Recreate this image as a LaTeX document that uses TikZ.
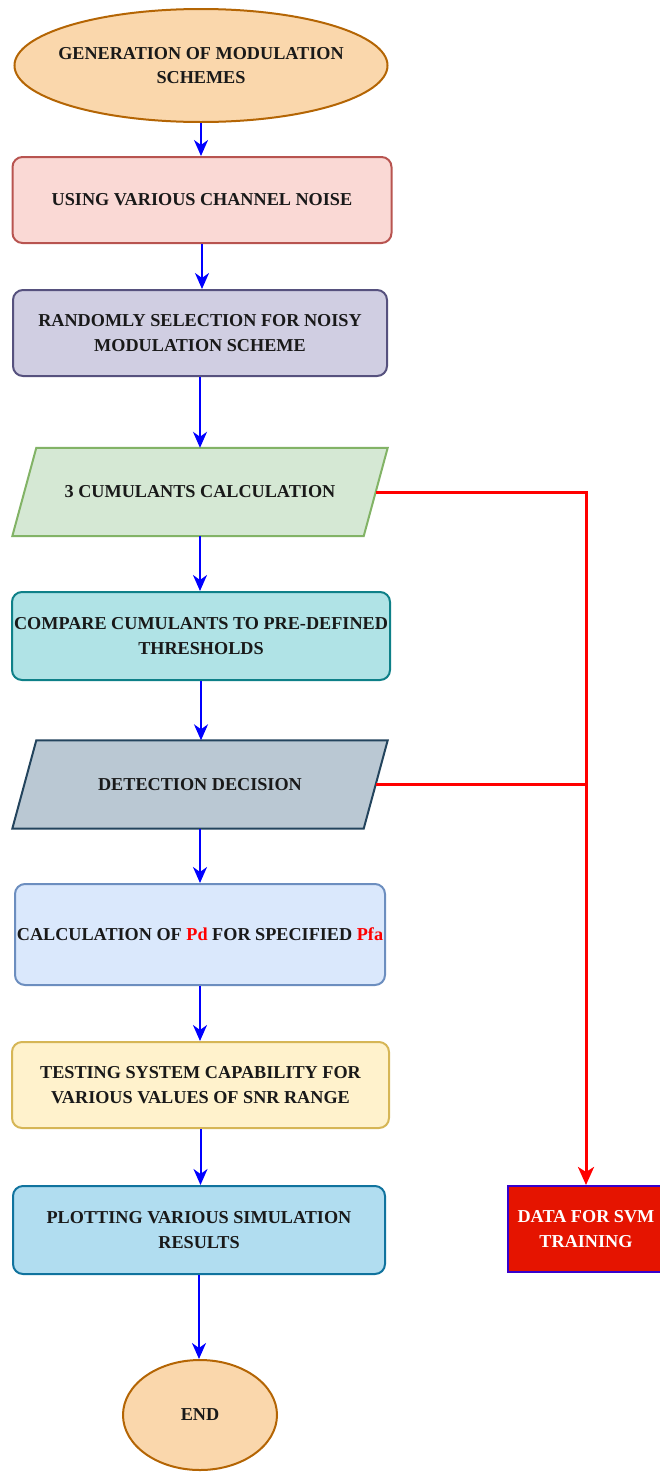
\documentclass[tikz,border=0pt]{standalone}
\usepackage{fontspec}
\setmainfont{Liberation Serif}
\usetikzlibrary{arrows.meta,shapes.geometric,backgrounds}
\definecolor{orfill}{HTML}{FAD7AC}\definecolor{ordraw}{HTML}{B46504}
\definecolor{rdfill}{HTML}{FAD9D5}\definecolor{rddraw}{HTML}{B85450}
\definecolor{pufill}{HTML}{D0CEE2}\definecolor{pudraw}{HTML}{56517E}
\definecolor{grfill}{HTML}{D5E8D4}\definecolor{grdraw}{HTML}{82B366}
\definecolor{tefill}{HTML}{B0E3E6}\definecolor{tedraw}{HTML}{0E8088}
\definecolor{slfill}{HTML}{BAC8D3}\definecolor{sldraw}{HTML}{23445D}
\definecolor{blfill}{HTML}{DAE8FC}\definecolor{bldraw}{HTML}{6C8EBF}
\definecolor{yefill}{HTML}{FFF2CC}\definecolor{yedraw}{HTML}{D6B656}
\definecolor{skfill}{HTML}{B1DDF0}\definecolor{skdraw}{HTML}{10739E}
\definecolor{dafill}{HTML}{E51400}\definecolor{dadraw}{HTML}{3700CC}
\definecolor{flowblue}{HTML}{0000FF}\definecolor{flowred}{HTML}{FF0000}
\tikzset{
  txt/.style={font=\fontsize{18.2}{24.5}\selectfont\bfseries, align=center, text=black!90},
  oval/.style={txt, ellipse, draw=ordraw, fill=orfill, line width=2pt, inner xsep=-40pt, inner ysep=0pt},
  rbox/.style={txt, rectangle, rounded corners=10pt, line width=2pt, minimum height=86pt, inner sep=0pt},
  para/.style={txt, rectangle, minimum width=375pt, minimum height=88pt, inner sep=0pt},
  flow/.style={draw=flowblue, line width=2pt, -{Stealth[length=16pt,width=14pt,inset=5pt]}},
  side/.style={draw=flowred, line width=3pt},
  sidearrow/.style={side, -{Stealth[length=18pt,width=16pt,inset=5pt]}},
}
\begin{document}
\begin{tikzpicture}[x=1pt,y=-1pt]
\useasboundingbox (0,0) rectangle (659,1473);
\node[oval, minimum width=373pt, minimum height=113pt] (gen) at (201,65.5) {GENERATION OF MODULATION\\SCHEMES};
\node[rbox, draw=rddraw, fill=rdfill, minimum width=379pt] (noise) at (202,200) {USING VARIOUS CHANNEL NOISE};
\node[rbox, draw=pudraw, fill=pufill, minimum width=374pt] (rand) at (200,333) {RANDOMLY SELECTION FOR NOISY\\MODULATION SCHEME};
\node[para] (cum) at (200,492) {3 CUMULANTS CALCULATION};
\node[rbox, draw=tedraw, fill=tefill, minimum width=378pt, minimum height=88pt] (comp) at (201,636) {COMPARE CUMULANTS TO PRE-DEFINED\\THRESHOLDS};
\node[para] (det) at (200,784.5) {DETECTION DECISION};
\node[rbox, draw=bldraw, fill=blfill, minimum width=370pt, minimum height=101pt] (calc) at (200,934.5) {CALCULATION OF \textcolor{flowred}{Pd} FOR SPECIFIED \textcolor{flowred}{Pfa}};
\node[rbox, draw=yedraw, fill=yefill, minimum width=377pt] (test) at (200.5,1085) {TESTING SYSTEM CAPABILITY FOR\\VARIOUS VALUES OF SNR RANGE};
\node[rbox, draw=skdraw, fill=skfill, minimum width=372pt, minimum height=88pt] (plot) at (199,1230) {PLOTTING VARIOUS SIMULATION\\RESULTS};
\node[oval, inner xsep=0pt, minimum width=154pt, minimum height=110pt] (end) at (200,1415) {END};
\node[txt, rectangle, draw=dadraw, fill=dafill, line width=2pt, text=white, minimum width=156pt, minimum height=86pt, inner sep=0pt] (svm) at (586,1229) {DATA FOR SVM\\TRAINING};
\begin{pgfonlayer}{background}
\draw[draw=grdraw, fill=grfill, line width=2pt] ([xshift=24pt]cum.north west) -- (cum.north east) -- ([xshift=-24pt]cum.south east) -- (cum.south west) -- cycle;
\draw[draw=sldraw, fill=slfill, line width=2pt] ([xshift=24pt]det.north west) -- (det.north east) -- ([xshift=-24pt]det.south east) -- (det.south west) -- cycle;
\end{pgfonlayer}
\coordinate (cumR) at ([xshift=-12pt]cum.east);
\coordinate (detR) at ([xshift=-12pt]det.east);
\coordinate (turn) at (svm.north |- cumR);
\coordinate (join) at (svm.north |- detR);
\draw[flow] (gen.south) -- (gen.south |- noise.north);
\draw[flow] (noise.south) -- (noise.south |- rand.north);
\draw[flow] (rand.south) -- (rand.south |- cum.north);
\draw[flow] (cum.south) -- (cum.south |- comp.north);
\draw[flow] (comp.south) -- (comp.south |- det.north);
\draw[flow] (det.south) -- (det.south |- calc.north);
\draw[flow] (calc.south) -- (calc.south |- test.north);
\draw[flow] (test.south) -- (test.south |- plot.north);
\draw[flow] (plot.south) -- (plot.south |- end.north);
\draw[sidearrow] (cumR) -- (turn) -- (svm.north);
\draw[side] (detR) -- (join);
\end{tikzpicture}
\end{document}
